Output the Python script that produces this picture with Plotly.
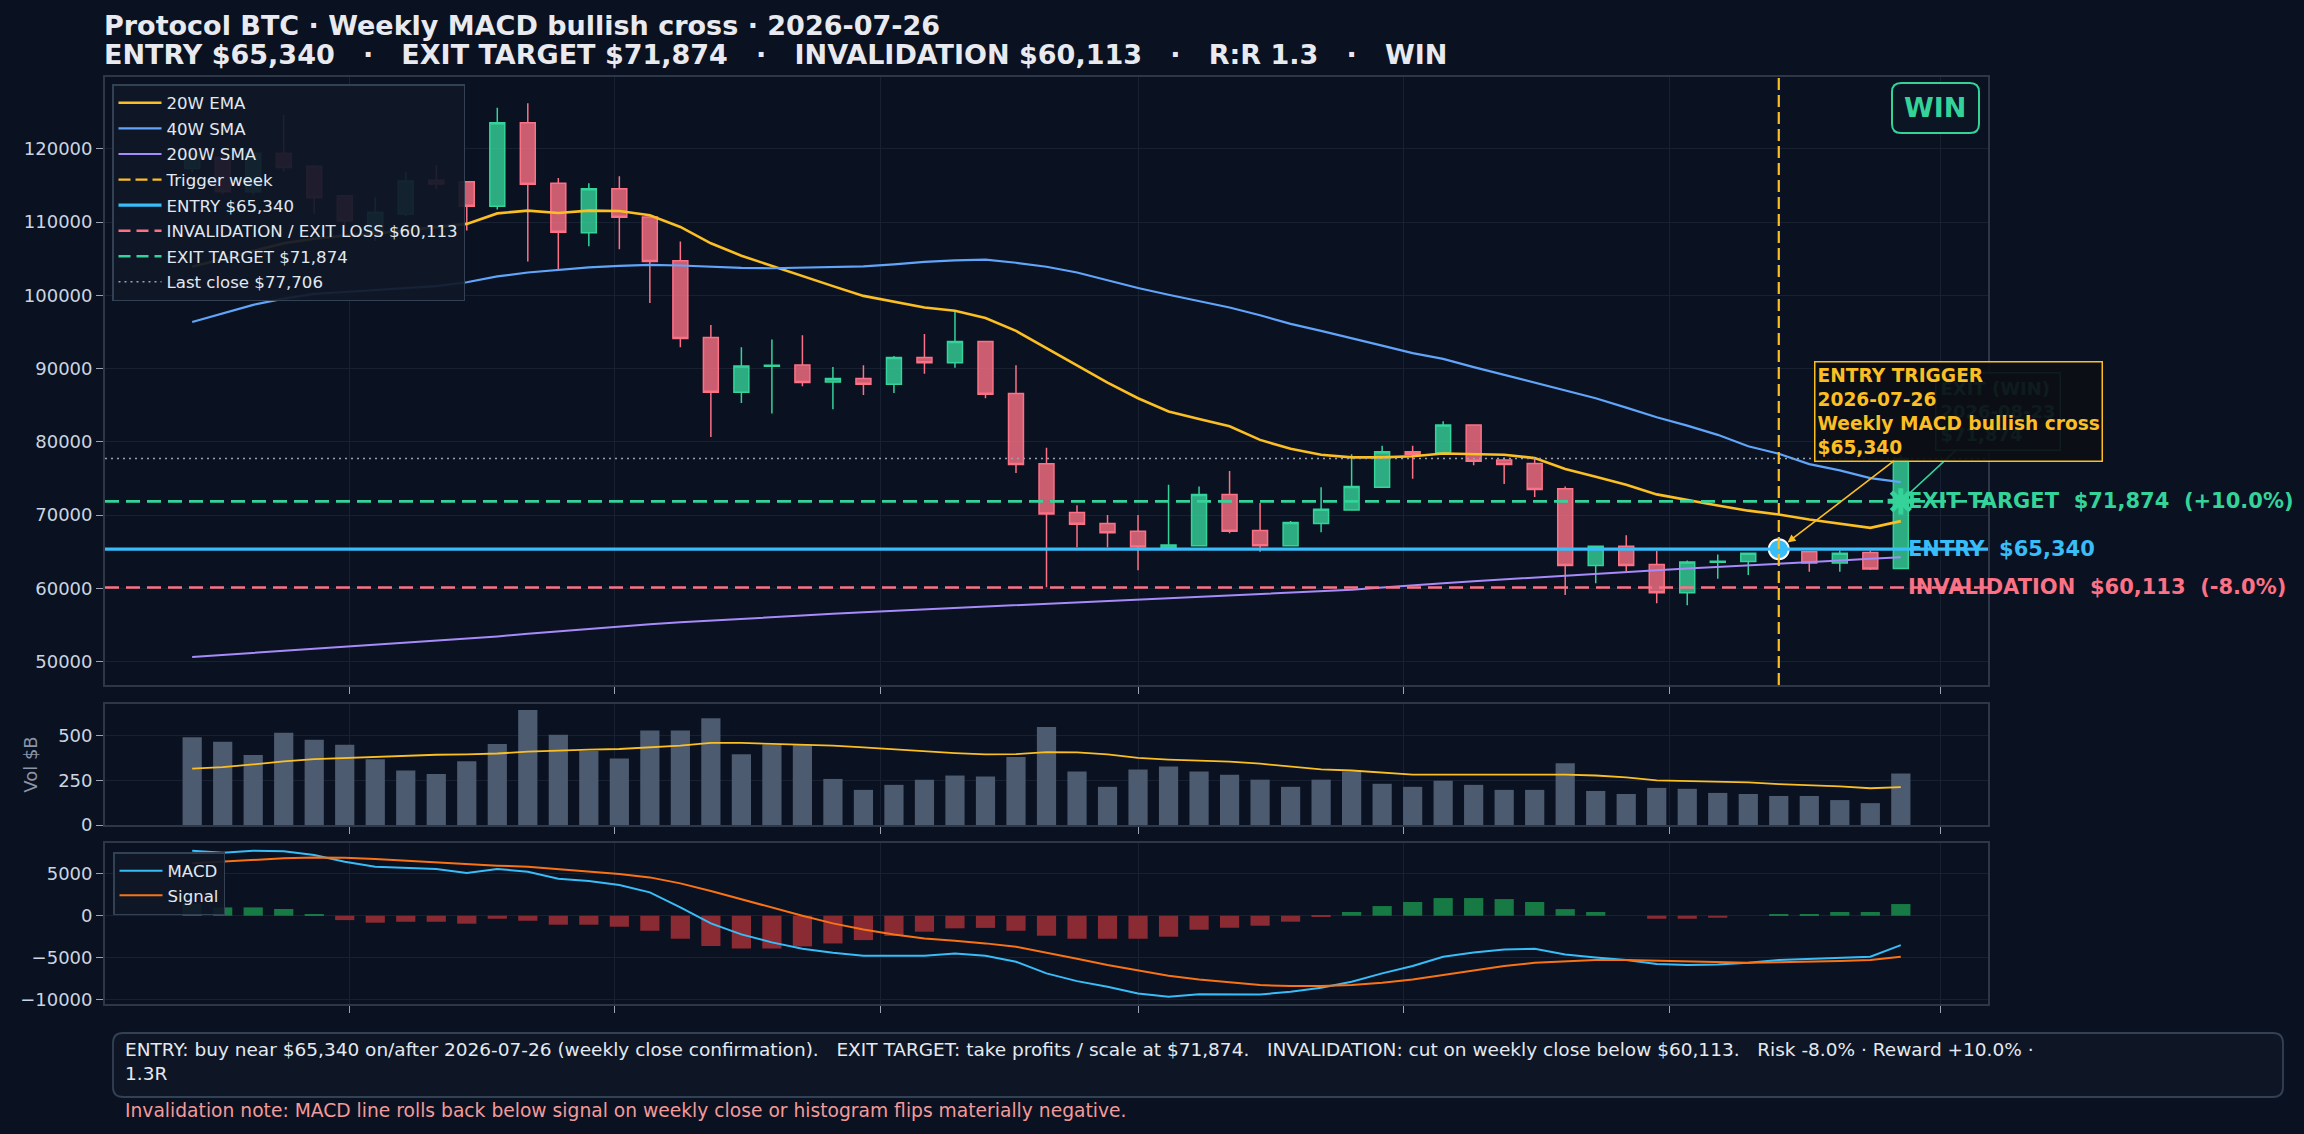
import pandas as pd
import plotly.graph_objects as go
from plotly.subplots import make_subplots

# weekly candles, one per Sunday from 2025-07-27 to 2026-08-23
weeks = pd.date_range("2025-07-27", periods=57, freq="7D")

opens = [117300, 118800, 114150, 119400, 117600, 113600, 108700, 111100, 115700, 115500,
         112150, 123550, 115300, 108550, 114550, 110700, 104700, 94250, 86750, 90300,
         90500, 88150, 88650, 87850, 91500, 90800, 93700, 86600, 77000, 70350,
         68850, 67800, 65550, 65800, 72800, 67900, 65800, 68850, 70700, 73800,
         78650, 78500, 82300, 77500, 77050, 73600, 63100, 65750, 63250, 59400,
         63550, 63650, 64800, 65000, 63450, 64900, 62700]
highs = [119800, 119200, 119800, 124600, 117800, 113700, 113400, 116800, 117800, 115600,
         125600, 126200, 116000, 115300, 116250, 110800, 107350, 95950, 92900, 93950,
         94550, 90200, 90450, 91700, 94700, 97900, 93800, 90450, 79200, 71350,
         70000, 70000, 74150, 73900, 76000, 71650, 69200, 73800, 78300, 79450,
         79450, 82800, 82400, 77850, 77850, 73900, 65800, 67250, 65100, 63800,
         64600, 64900, 65900, 65100, 65150, 65150, 78200]
lows = [116800, 113800, 113700, 116900, 111100, 108500, 107400, 110800, 114500, 108850,
        111700, 104600, 103550, 106700, 106300, 98950, 92900, 80650, 85300, 83850,
        87600, 84450, 86400, 86650, 89300, 90100, 85950, 75750, 60150, 65600,
        65600, 62450, 65400, 65700, 67500, 65000, 65700, 67650, 70600, 73700,
        74950, 78400, 76800, 74250, 72450, 59100, 60700, 62350, 57950, 57700,
        61300, 61800, 63200, 62250, 62250, 62500, 62600]
closes = [119300, 114150, 119400, 117450, 113300, 110150, 111350, 115600, 115200, 112150,
          123550, 115150, 108600, 114550, 110650, 104600, 94100, 86750, 90350, 90450,
          88100, 88650, 87850, 91500, 90800, 93700, 86500, 76900, 70150, 68750,
          67600, 65650, 65900, 72800, 67800, 65800, 69000, 70800, 73900, 78650,
          78300, 82300, 77350, 76900, 73500, 63100, 65750, 63100, 59400, 63600,
          63700, 64800, 65340, 63450, 64800, 62650, 77706]

ema20 = [103900, 104970, 106030, 107100, 107730, 108160, 108420, 108850, 109220, 109750,
         111180, 111560, 111240, 111560, 111500, 110920, 109330, 107100, 105400, 104010,
         102580, 101250, 99920, 99130, 98330, 97900, 96900, 95140, 92750, 90360,
         88080, 85950, 84140, 83100, 82120, 80260, 79040, 78240, 77870, 77870,
         78030, 78400, 78300, 78240, 77770, 76280, 75220, 74150, 72820, 72030,
         71300, 70600, 70070, 69400, 68800, 68250, 69170]
sma40 = [96360, 97530, 98700, 99550, 100190, 100450, 100720, 100990, 101250, 101780,
         102580, 103110, 103480, 103800, 104010, 104150, 104070, 103900, 103740, 103690,
         103800, 103900, 103960, 104230, 104550, 104760, 104870, 104440, 103900, 103110,
         102050, 100990, 100080, 99230, 98330, 97270, 96100, 95140, 94080, 93120,
         92110, 91320, 90200, 89140, 88080, 87010, 85950, 84670, 83350, 82200,
         80950, 79400, 78370, 76950, 76100, 75040, 74490]
sma200 = [50620, 50900, 51170, 51430, 51690, 51950, 52230, 52520, 52800, 53100,
          53430, 53780, 54120, 54470, 54810, 55100, 55350, 55600, 55830, 56070,
          56300, 56520, 56730, 56920, 57110, 57300, 57480, 57680, 57880, 58080,
          58290, 58490, 58690, 58880, 59060, 59240, 59430, 59620, 59810, 60120,
          60450, 60700, 60960, 61220, 61500, 61770, 62000, 62240, 62480, 62700,
          62900, 63130, 63350, 63580, 63800, 64020, 64230]

volume = [490, 464, 390, 515, 475, 447, 367, 304, 285, 355,
          452, 641, 504, 413, 371, 527, 527, 595, 395, 447,
          447, 257, 196, 224, 253, 276, 270, 380, 547, 298,
          213, 310, 327, 298, 281, 253, 213, 253, 298, 230,
          213, 247, 224, 196, 196, 344, 190, 173, 207, 202,
          179, 173, 162, 162, 139, 122, 287]
vol_ma = [314, 323, 338, 355, 367, 374, 382, 386, 392, 394,
          399, 409, 416, 420, 424, 433, 443, 458, 458, 452,
          449, 443, 433, 422, 411, 401, 394, 395, 407, 405,
          394, 374, 365, 361, 354, 342, 327, 310, 304, 293,
          281, 281, 281, 279, 278, 281, 276, 266, 249, 245,
          243, 238, 228, 222, 215, 205, 211]

macd = [7740, 7500, 7740, 7660, 7220, 6430, 5830, 5710, 5560, 5080,
        5560, 5240, 4400, 4130, 3650, 2780, 990, -910, -2220, -3170,
        -3930, -4400, -4760, -4760, -4760, -4480, -4760, -5480, -6860, -7780,
        -8450, -9250, -9640, -9330, -9330, -9360, -9050, -8570, -7860, -6860,
        -5990, -4880, -4370, -4010, -3930, -4600, -4960, -5280, -5750, -5870,
        -5790, -5600, -5280, -5160, -4960, -4880, -3490]
signal = [6230, 6430, 6630, 6830, 6940, 6900, 6750, 6550, 6350, 6110,
          5950, 5830, 5560, 5240, 4960, 4560, 3850, 2940, 1940, 990,
          0, -910, -1630, -2220, -2700, -2980, -3290, -3690, -4370, -5120,
          -5870, -6550, -7140, -7580, -7940, -8250, -8370, -8370, -8250, -7980,
          -7580, -7060, -6550, -5990, -5600, -5400, -5280, -5280, -5360, -5480,
          -5600, -5600, -5520, -5480, -5400, -5280, -4880]
hist = [1470, 990, 990, 800, 200, -520, -830, -720, -720, -950,
        -360, -600, -1070, -1070, -1310, -1790, -2740, -3600, -3900, -3900,
        -3650, -3300, -2900, -2400, -1900, -1500, -1450, -1790, -2380, -2740,
        -2740, -2740, -2500, -1670, -1430, -1190, -710, -120, 440, 1150,
        1630, 2100, 2100, 1980, 1630, 790, 440, 0, -360, -360,
        -240, 0, 200, 200, 440, 440, 1390]

ENTRY = 65340
EXIT_TARGET = 71874
INVALIDATION = 60113
LAST_CLOSE = 77706
TRIGGER = "2026-07-26"
EXIT_DATE = "2026-08-23"
RISK = (INVALIDATION / ENTRY - 1) * 100
REWARD = (EXIT_TARGET / ENTRY - 1) * 100
RR = abs(REWARD / RISK)

# page geometry (pixels)
W, H = 2304, 1134
ML, MR, MT, MB = 105, 316, 77, 130
FONT = "DejaVu Sans"
BG = "#0a1120"
GRID = "#182132"
SPINE = "#2d3748"
TICK = "#cbd5e1"
GOLD = "#fbbf24"
BLUE = "#60a5fa"
PURPLE = "#a78bfa"
CYAN = "#38bdf8"
GREEN = "#34d399"
ROSE = "#fb7185"


def px_x(X):
    return (X - ML) / (W - ML - MR)


def px_y(Y):
    return (H - MB - Y) / (H - MT - MB)


def rounded_box(x0, y0, x1, y1, r):
    # pixel box -> svg path in paper coordinates
    def p(X, Y):
        return f"{px_x(X):.5f},{px_y(Y):.5f}"
    return (f"M {p(x0 + r, y0)} L {p(x1 - r, y0)} Q {p(x1, y0)} {p(x1, y0 + r)} "
            f"L {p(x1, y1 - r)} Q {p(x1, y1)} {p(x1 - r, y1)} L {p(x0 + r, y1)} "
            f"Q {p(x0, y1)} {p(x0, y1 - r)} L {p(x0, y0 + r)} Q {p(x0, y0)} {p(x0 + r, y0)} Z")


fig = make_subplots(rows=3, cols=1, shared_xaxes=True, vertical_spacing=0.02)

# --- price panel ---
fig.add_hrect(y0=ENTRY, y1=EXIT_TARGET, row=1, col=1, fillcolor="rgba(45,212,191,0.07)",
              line_width=0, layer="below")
fig.add_hrect(y0=INVALIDATION, y1=ENTRY, row=1, col=1, fillcolor="rgba(244,63,94,0.08)",
              line_width=0, layer="below")

fig.add_trace(go.Candlestick(
    x=weeks, open=opens, high=highs, low=lows, close=closes,
    increasing=dict(line=dict(color=GREEN, width=1.5), fillcolor="rgba(52,211,153,0.8)"),
    decreasing=dict(line=dict(color=ROSE, width=1.5), fillcolor="rgba(251,113,133,0.8)"),
    showlegend=False, hoverinfo="skip"), row=1, col=1)

fig.add_trace(go.Scatter(x=weeks, y=ema20, mode="lines", name="20W EMA",
                         line=dict(color=GOLD, width=2.6), legendgroup="a"), row=1, col=1)
fig.add_trace(go.Scatter(x=weeks, y=sma40, mode="lines", name="40W SMA",
                         line=dict(color=BLUE, width=2.2), legendgroup="b"), row=1, col=1)
fig.add_trace(go.Scatter(x=weeks, y=sma200, mode="lines", name="200W SMA",
                         line=dict(color=PURPLE, width=2), legendgroup="c"), row=1, col=1)

# legend-only entries for the reference lines (the lines themselves are shapes)
legend_lines = [
    ("Trigger week", dict(color=GOLD, width=2.2, dash="12px,5px")),
    (f"ENTRY ${ENTRY:,}", dict(color=CYAN, width=3.2)),
    (f"INVALIDATION / EXIT LOSS ${INVALIDATION:,}", dict(color=ROSE, width=2.6, dash="12px,6px")),
    (f"EXIT TARGET ${EXIT_TARGET:,}", dict(color=GREEN, width=2.6, dash="12px,6px")),
    (f"Last close ${LAST_CLOSE:,}", dict(color="#9ca3af", width=1.5, dash="2px,4px")),
]
for k, (name, ln) in enumerate(legend_lines):
    fig.add_trace(go.Scatter(x=[None], y=[None], mode="lines", name=name, line=ln,
                             legendgroup=f"l{k}"), row=1, col=1)

fig.add_hline(y=LAST_CLOSE, row=1, col=1, line=dict(color="#9ca3af", width=1.5, dash="2px,4px"))
fig.add_hline(y=EXIT_TARGET, row=1, col=1, line=dict(color=GREEN, width=2.6, dash="14px,7px"))
fig.add_hline(y=INVALIDATION, row=1, col=1, line=dict(color=ROSE, width=2.6, dash="14px,7px"))
fig.add_hline(y=ENTRY, row=1, col=1, line=dict(color=CYAN, width=3.2))
fig.add_vline(x=TRIGGER, row=1, col=1, line=dict(color=GOLD, width=2.2, dash="12px,5px"))
fig.add_vline(x=TRIGGER, row=3, col=1, line=dict(color="#c9961e", width=1.3, dash="7px,4px"))

fig.add_trace(go.Scatter(x=[TRIGGER], y=[ENTRY], mode="markers", showlegend=False,
                         marker=dict(size=20, color=CYAN, line=dict(color="white", width=2))),
              row=1, col=1)
fig.add_trace(go.Scatter(x=[EXIT_DATE], y=[EXIT_TARGET], mode="markers", showlegend=False,
                         marker=dict(size=22, symbol="asterisk-open", color=GREEN,
                                     line=dict(color=GREEN, width=5))),
              row=1, col=1)

# --- volume panel ---
fig.add_trace(go.Bar(x=weeks, y=volume, marker=dict(color="#4d5b71", line_width=0),
                     showlegend=False, hoverinfo="skip"), row=2, col=1)
fig.add_trace(go.Scatter(x=weeks, y=vol_ma, mode="lines", line=dict(color=GOLD, width=1.8),
                         showlegend=False), row=2, col=1)

# --- MACD panel ---
fig.add_trace(go.Bar(x=weeks, y=hist, showlegend=False, hoverinfo="skip",
                     marker=dict(color=["#177a45" if v >= 0 else "#8a2a33" for v in hist],
                                 line_width=0)), row=3, col=1)
fig.add_trace(go.Scatter(x=weeks, y=macd, mode="lines", name="MACD", legend="legend2",
                         line=dict(color=CYAN, width=2)), row=3, col=1)
fig.add_trace(go.Scatter(x=weeks, y=signal, mode="lines", name="Signal", legend="legend2",
                         line=dict(color="#f97316", width=2)), row=3, col=1)

# --- annotations ---
annotations = [
    dict(xref="paper", yref="paper", x=0, y=px_y(25), xanchor="left", yanchor="middle",
         xshift=-3, showarrow=False, font=dict(size=27, color="#e8eaf0"),
         text="<b>Protocol BTC · Weekly MACD bullish cross · 2026-07-26</b>"),
    dict(xref="paper", yref="paper", x=0, y=px_y(55), xanchor="left", yanchor="middle",
         xshift=-3, showarrow=False, font=dict(size=27, color="#e8eaf0"),
         text="<b>" + "\u00a0\u00a0\u00a0·\u00a0\u00a0\u00a0".join([
             f"ENTRY ${ENTRY:,}", f"EXIT TARGET ${EXIT_TARGET:,}",
             f"INVALIDATION ${INVALIDATION:,}", f"R:R {RR:.1f}", "WIN"]) + "</b>"),
    dict(xref="x", yref="y", x=EXIT_DATE, y=EXIT_TARGET, xanchor="left", xshift=5,
         showarrow=False, font=dict(size=21, color=GREEN),
         text=f"<b>EXIT TARGET\u00a0\u00a0${EXIT_TARGET:,}\u00a0\u00a0(+{REWARD:.1f}%)</b>"),
    dict(xref="x", yref="y", x=EXIT_DATE, y=ENTRY, xanchor="left", xshift=5,
         showarrow=False, font=dict(size=21, color=CYAN),
         text=f"<b>ENTRY\u00a0\u00a0${ENTRY:,}</b>"),
    dict(xref="x", yref="y", x=EXIT_DATE, y=INVALIDATION, xanchor="left", xshift=5,
         showarrow=False, font=dict(size=21, color=ROSE),
         text=f"<b>INVALIDATION\u00a0\u00a0${INVALIDATION:,}\u00a0\u00a0({RISK:.1f}%)</b>"),
    dict(xref="x", yref="y", x=EXIT_DATE, y=EXIT_TARGET, ax=97, ay=-90,
         showarrow=True, arrowhead=0, arrowwidth=1.5, arrowcolor=GREEN, standoff=8,
         align="left", font=dict(size=18, color=GREEN), bgcolor="rgba(10,17,32,0.9)",
         bordercolor=GREEN, borderwidth=1.5, borderpad=4,
         text=f"<b>EXIT (WIN)<br>{EXIT_DATE}<br>${EXIT_TARGET:,}</b>"),
    dict(xref="x", yref="y", x=TRIGGER, y=ENTRY, ax=180, ay=-138,
         showarrow=True, arrowhead=2, arrowsize=1, arrowwidth=1.6, arrowcolor=GOLD, standoff=11,
         align="left", font=dict(size=18.6, color=GOLD), bgcolor="rgba(12,14,20,0.93)",
         bordercolor=GOLD, borderwidth=1.5, borderpad=2,
         text=f"<b>ENTRY TRIGGER<br>{TRIGGER}<br>Weekly MACD bullish cross<br>${ENTRY:,}</b>"),
    dict(xref="paper", yref="paper", x=px_x(1935), y=px_y(108), xanchor="center",
         yanchor="middle", showarrow=False, font=dict(size=27, color=GREEN), text="<b>WIN</b>"),
    dict(xref="paper", yref="paper", x=px_x(123), y=px_y(1037), xanchor="left", yanchor="top",
         showarrow=False, align="left", font=dict(size=18.5, color="#e5e9f0"),
         text=(f"ENTRY: buy near ${ENTRY:,} on/after {TRIGGER} (weekly close confirmation)."
               f"\u00a0\u00a0\u00a0EXIT TARGET: take profits / scale at ${EXIT_TARGET:,}."
               f"\u00a0\u00a0\u00a0INVALIDATION: cut on weekly close below ${INVALIDATION:,}."
               f"\u00a0\u00a0\u00a0Risk {RISK:.1f}% · Reward +{REWARD:.1f}% ·<br>{RR:.1f}R")),
    dict(xref="paper", yref="paper", x=px_x(123), y=px_y(1110), xanchor="left", yanchor="middle",
         showarrow=False, font=dict(size=18.7, color="#f39a9a"),
         text="Invalidation note: MACD line rolls back below signal on weekly close "
              "or histogram flips materially negative."),
]

shapes = list(fig.layout.shapes) + [
    dict(type="path", xref="paper", yref="paper", path=rounded_box(1892, 83, 1979, 133, 9),
         line=dict(color=GREEN, width=2), fillcolor="#0b1524", layer="above"),
    dict(type="path", xref="paper", yref="paper", path=rounded_box(113, 1033, 2283, 1097, 10),
         line=dict(color="#334155", width=1.8), fillcolor="#0e1626", layer="below"),
]

axis_common = dict(showgrid=True, gridcolor=GRID, gridwidth=1, showline=True, mirror=True,
                   linecolor=SPINE, linewidth=1.8, zeroline=False, automargin=False,
                   ticks="outside", ticklen=7, tickwidth=1.4, tickcolor="#9aa4b5",
                   tickfont=dict(size=18, color=TICK))

fig.update_xaxes(type="date", range=["2025-07-07", "2026-09-12"], tick0="2025-09-01",
                 dtick="M2", showticklabels=False, rangeslider_visible=False, **axis_common)

legend_style = dict(xanchor="left", yanchor="top", bgcolor="rgba(16,24,40,0.93)",
                    bordercolor="#334155", borderwidth=1.5, itemwidth=43,
                    font=dict(size=16.6, color="#e2e8f0"))

fig.update_layout(
    width=W, height=H,
    margin=dict(l=ML, r=MR, t=MT, b=MB),
    paper_bgcolor=BG, plot_bgcolor=BG,
    font=dict(family=FONT, color=TICK),
    hovermode=False,
    bargap=0.37,
    yaxis=dict(domain=[px_y(685), px_y(77)], range=[46800, 129800], dtick=10000,
               tickformat="d", **axis_common),
    yaxis2=dict(domain=[px_y(825), px_y(704)], range=[0, 675], dtick=250,
                title=dict(text="Vol $B", font=dict(size=18, color="#8b95a7"), standoff=16),
                **axis_common),
    yaxis3=dict(domain=[px_y(1004), px_y(843)], range=[-10500, 8650], dtick=5000,
                tickformat="d", **axis_common),
    legend=dict(x=px_x(112), y=px_y(84), tracegroupgap=1, **legend_style),
    legend2=dict(x=px_x(113), y=px_y(852), **legend_style),
    annotations=annotations,
    shapes=shapes,
)

fig.write_html("out.html", config={"displayModeBar": False},
               post_script="document.body.style.margin='0';")
